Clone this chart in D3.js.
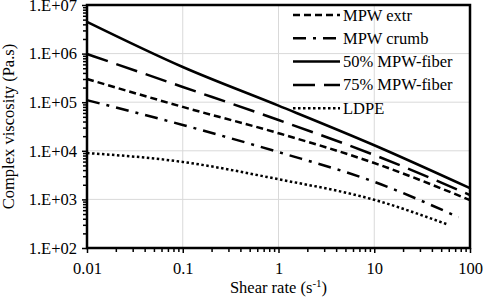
<!DOCTYPE html>
<html>
<head>
<meta charset="utf-8">
<script src="https://cdn.jsdelivr.net/npm/d3@7"></script>
<style>
  html, body { margin: 0; padding: 0; background: #fff; }
  svg { display: block; }
</style>
</head>
<body>
<div id="chart"></div>
<script>
// Shear rate (s^-1) sample points
const shearRates = [0.01, 0.1, 1, 10, 100];
const crumbRates = [0.01, 0.1, 1, 10, 76];
const ldpeRates = [0.01, 0.1, 1, 10, 57];

// Complex viscosity (Pa.s)
const mpwExtr = [3.0e5, 8.0e4, 2.3e4, 5.6e3, 9.7e2];
const mpwCrumb = [1.1e5, 3.4e4, 9.4e3, 2.3e3, 4.3e2];
const fiber50 = [4.5e6, 5.3e5, 8.5e4, 1.3e4, 1.7e3];
const fiber75 = [9.8e5, 2.06e5, 4.3e4, 8.2e3, 1.23e3];
const ldpe = [9.0e3, 5.9e3, 2.6e3, 9.8e2, 3.1e2];

const seriesNames = ["MPW extr", "MPW crumb", "50% MPW-fiber", "75% MPW-fiber", "LDPE"];
const xTicks = [0.01, 0.1, 1, 10, 100];
const yTicks = [1e2, 1e3, 1e4, 1e5, 1e6, 1e7];

const width = 484;
const height = 303;
const margin = { top: 5, right: 14, bottom: 55, left: 87 };
const innerWidth = width - margin.left - margin.right;
const innerHeight = height - margin.top - margin.bottom;
const fontFamily = "Liberation Serif, DejaVu Serif, serif";
const fontSize = 16.5;

const series = [
  { name: seriesNames[0], x: shearRates, y: mpwExtr, dash: "7,4", width: 2.5 },
  { name: seriesNames[1], x: crumbRates, y: mpwCrumb, dash: "13,7,3,7", width: 2.5 },
  { name: seriesNames[2], x: shearRates, y: fiber50, dash: null, width: 2.5 },
  { name: seriesNames[3], x: shearRates, y: fiber75, dash: "22,9", width: 2.5 },
  { name: seriesNames[4], x: ldpeRates, y: ldpe, dash: "2.5,2.5", width: 2.5 }
];

const svg = d3.select("#chart")
  .append("svg")
  .attr("width", width)
  .attr("height", height)
  .attr("font-family", fontFamily)
  .attr("font-size", fontSize);

const chart = svg.append("g")
  .attr("transform", `translate(${margin.left},${margin.top})`);

const x = d3.scaleLog().domain([0.01, 100]).range([0, innerWidth]);
const y = d3.scaleLog().domain([1e2, 1e7]).range([innerHeight, 0]);

// minor tick values for both axes
const minorOf = (majors) => {
  const values = [];
  majors.slice(0, -1).forEach((m) => {
    for (let k = 2; k <= 9; k++) values.push(m * k);
  });
  return values;
};

// grid lines
chart.append("g")
  .selectAll("line")
  .data(xTicks.slice(1, -1))
  .enter()
  .append("line")
  .attr("x1", (d) => x(d))
  .attr("x2", (d) => x(d))
  .attr("y1", 0)
  .attr("y2", innerHeight)
  .attr("stroke", "#d9d9d9")
  .attr("stroke-width", 1);

chart.append("g")
  .selectAll("line")
  .data(yTicks.slice(1, -1))
  .enter()
  .append("line")
  .attr("x1", 0)
  .attr("x2", innerWidth)
  .attr("y1", (d) => y(d))
  .attr("y2", (d) => y(d))
  .attr("stroke", "#d9d9d9")
  .attr("stroke-width", 1);

// data lines
const line = d3.line()
  .x((d) => x(d[0]))
  .y((d) => y(d[1]))
  .curve(d3.curveMonotoneX);

series.forEach((s) => {
  chart.append("path")
    .datum(s.x.map((v, i) => [v, s.y[i]]))
    .attr("fill", "none")
    .attr("stroke", "#000")
    .attr("stroke-width", s.width)
    .attr("stroke-dasharray", s.dash)
    .attr("d", line);
});

// frame
chart.append("rect")
  .attr("x", 0)
  .attr("y", 0)
  .attr("width", innerWidth)
  .attr("height", innerHeight)
  .attr("fill", "none")
  .attr("stroke", "#000")
  .attr("stroke-width", 2.5);

// axes
const styleAxis = (g) => {
  g.attr("font-family", fontFamily).attr("font-size", fontSize);
  g.select(".domain").remove();
  g.selectAll("line").attr("stroke", "#000").attr("stroke-width", 1.5);
  g.selectAll("text").attr("fill", "#000");
};

const minorAxis = (g) => {
  styleAxis(g);
  g.selectAll("text").remove();
};

chart.append("g")
  .attr("transform", `translate(0,${innerHeight})`)
  .call(d3.axisBottom(x).tickValues(minorOf(xTicks)).tickSize(4))
  .call(minorAxis);

chart.append("g")
  .attr("transform", `translate(0,${innerHeight})`)
  .call(d3.axisBottom(x).tickValues(xTicks).tickSize(5).tickPadding(9)
    .tickFormat((d) => d3.format("~g")(d)))
  .call(styleAxis);

chart.append("g")
  .call(d3.axisLeft(y).tickValues(minorOf(yTicks)).tickSize(4))
  .call(minorAxis);

chart.append("g")
  .call(d3.axisLeft(y).tickValues(yTicks).tickSize(5).tickPadding(5)
    .tickFormat((d) => `1.E+${String(Math.round(Math.log10(d))).padStart(2, "0")}`))
  .call(styleAxis);

// axis titles
const xTitle = svg.append("text")
  .attr("x", margin.left + x(1))
  .attr("y", 293)
  .attr("text-anchor", "middle");

xTitle.append("tspan").text("Shear rate (s");
xTitle.append("tspan").attr("dy", -6).attr("font-size", 11).text("-1");
xTitle.append("tspan").attr("dy", 6).text(")");

svg.append("text")
  .attr("transform", `translate(14,${margin.top + innerHeight / 2}) rotate(-90)`)
  .attr("text-anchor", "middle")
  .text("Complex viscosity (Pa.s)");

// legend
const legend = svg.append("g")
  .attr("transform", "translate(293,15)");

series.forEach((s, i) => {
  const item = legend.append("g")
    .attr("transform", `translate(0,${i * 23.3})`);

  item.append("line")
    .attr("x1", 0)
    .attr("x2", 47)
    .attr("y1", 0)
    .attr("y2", 0)
    .attr("stroke", "#000")
    .attr("stroke-width", s.width)
    .attr("stroke-dasharray", s.dash);

  item.append("text")
    .attr("x", 50)
    .attr("y", 5.5)
    .text(s.name);
});
</script>
</body>
</html>
